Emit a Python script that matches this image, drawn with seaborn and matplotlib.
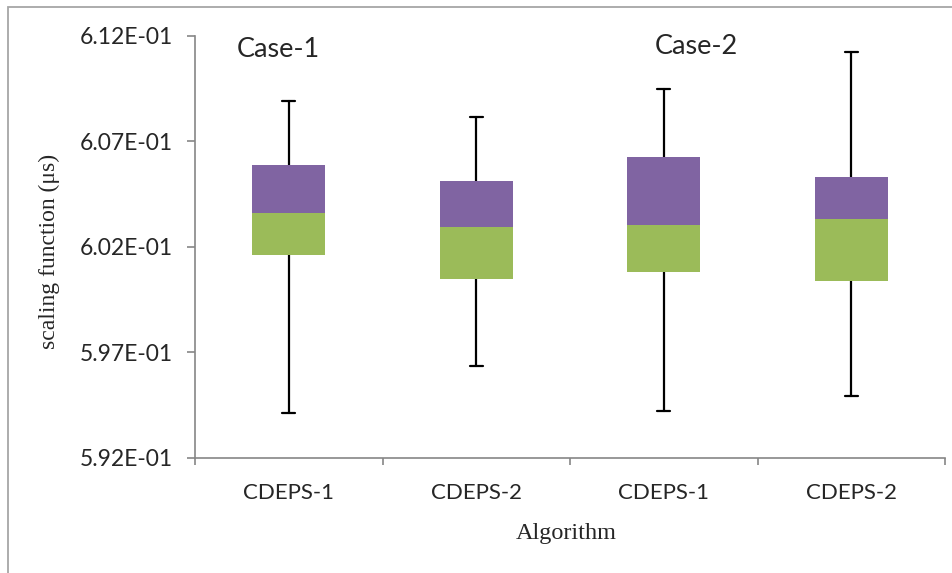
import numpy as np
import pandas as pd
import seaborn as sns
import matplotlib
matplotlib.use("Agg")
import matplotlib.pyplot as plt
from matplotlib.ticker import FuncFormatter
from matplotlib.patches import Rectangle

# five-number summary
algorithms = ["CDEPS-1", "CDEPS-2", "CDEPS-1", "CDEPS-2"]
cases = ["Case-1", "Case-1", "Case-2", "Case-2"]
v_min = [0.59414, 0.59637, 0.59424, 0.59492]
q1 = [0.60162, 0.60048, 0.60079, 0.60039]
med = [0.60359, 0.60293, 0.60301, 0.60332]
q3 = [0.60587, 0.60512, 0.60625, 0.60528]
v_max = [0.60890, 0.60814, 0.60947, 0.61122]
yticks = [0.592, 0.597, 0.602, 0.607, 0.612]

groups = [c + " " + a for c, a in zip(cases, algorithms)]

# long table for the whiskers (min..max)
rows = []
for i, g in enumerate(groups):
    for v in (v_min[i], q1[i], med[i], q3[i], v_max[i]):
        rows.append({"group": g, "val": v})
long_df = pd.DataFrame(rows)

box_df = pd.DataFrame({"group": groups, "q1": q1, "med": med, "q3": q3})
box_df["low"] = box_df["med"] - box_df["q1"]
box_df["high"] = box_df["q3"] - box_df["med"]

green = "#9BBB59"
purple = "#8064A2"
axis_gray = "#868686"

sns.set_style("white")
plt.rcParams["font.family"] = ["Lato", "DejaVu Sans"]

fig = plt.figure(figsize=(9.52, 5.73), dpi=100)
ax = fig.add_axes([195 / 952, 115 / 573, 750 / 952, 422.5 / 573])

# whiskers with caps (bars themselves invisible)
sns.barplot(data=long_df, x="group", y="val", order=groups, estimator="median",
            errorbar=lambda v: (v.min(), v.max()), capsize=0.07,
            fill=False, linewidth=0, width=0.4,
            err_kws={"color": "black", "linewidth": 1.6}, ax=ax)

# box: lower half green, upper half purple
sns.barplot(data=box_df, x="group", y="low", order=groups, bottom=box_df["q1"].values,
            color=green, saturation=1, width=0.39, linewidth=0, zorder=3, ax=ax)
sns.barplot(data=box_df, x="group", y="high", order=groups, bottom=box_df["med"].values,
            color=purple, saturation=1, width=0.39, linewidth=0, zorder=3, ax=ax)

ax.set_xlim(-0.5, 3.5)
ax.set_ylim(yticks[0], yticks[-1])
ax.set_yticks(yticks)
ax.yaxis.set_major_formatter(FuncFormatter(lambda v, p: f"{v:.2E}"))

ax.set_xticks(range(len(groups)))
ax.set_xticklabels(algorithms)
ax.set_xticks(np.arange(-0.5, len(groups), 1.0), minor=True)
ax.tick_params(axis="x", which="major", bottom=True, length=0, pad=18, labelsize=16)
ax.tick_params(axis="x", which="minor", bottom=True, length=5, width=1.2,
               color=axis_gray, direction="out")
ax.tick_params(axis="y", which="major", left=True, length=6, width=1.2, color=axis_gray,
               direction="out", pad=10, labelsize=16.5)
ax.tick_params(axis="y", which="minor", left=False)

for s in ["top", "right"]:
    ax.spines[s].set_visible(False)
for s in ["left", "bottom"]:
    ax.spines[s].set_color(axis_gray)
    ax.spines[s].set_linewidth(1.2)

ax.set_xlabel("Algorithm", family=["Liberation Serif", "DejaVu Serif"], fontsize=17.5)
ax.xaxis.set_label_coords(0.495, -0.155)
ax.set_ylabel("scaling function (\u03bcs)", family=["Liberation Serif", "DejaVu Serif"],
              fontsize=17)
ax.yaxis.set_label_coords(-0.18, 0.49)

ax.text(0.056, 0.966, "Case-1", transform=ax.transAxes, fontsize=19.5, va="center", ha="left")
ax.text(0.613, 0.973, "Case-2", transform=ax.transAxes, fontsize=19.5, va="center", ha="left")

# outer chart frame (only the left and top edges show in the picture)
fig.patches.append(Rectangle((8 / 952, -0.1), 1.2, (573 - 7.5) / 573 + 0.1,
                             transform=fig.transFigure, fill=False,
                             edgecolor="#a6a6a6", linewidth=1.3))

fig.savefig("out.png", dpi=100)
